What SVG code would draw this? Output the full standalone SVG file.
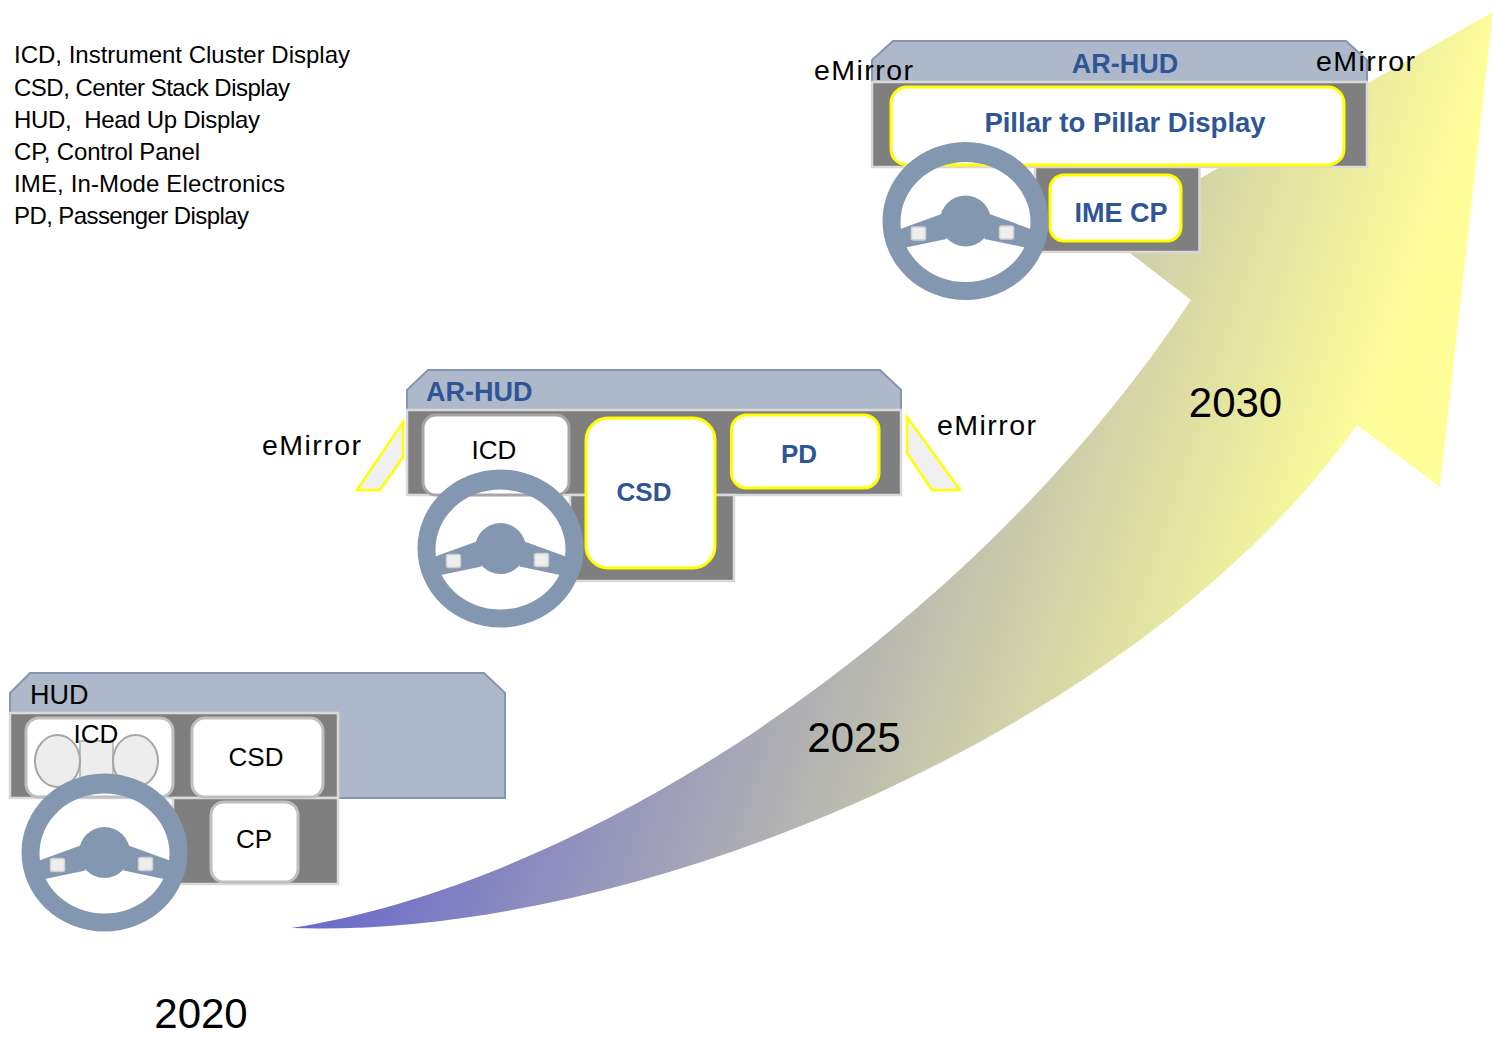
<svg xmlns="http://www.w3.org/2000/svg" width="1493" height="1037" viewBox="0 0 1493 1037">
<style>
  text { font-family: "Liberation Sans", Arial, sans-serif; fill: #000; }
  .legend { font-size: 24px; }
  .lbl { font-size: 26px; text-anchor: middle; }
  .blbl { font-weight: bold; fill: #2f5597; text-anchor: middle; }
  .year { font-size: 42px; text-anchor: middle; }
  .mtxt { font-size: 28.5px; }
  .hud { fill: #adb9ca; stroke: #8497b0; stroke-width: 2; }
  .dash { fill: #7f7f7f; stroke: #d9d9d9; stroke-width: 2.5; }
  .scr { fill: #fff; stroke: #bfbfbf; stroke-width: 3; }
  .scr-hi { fill: #fff; stroke: #ffff00; stroke-width: 3; }
  .mirror { fill: #f0f0f0; stroke: #ffff00; stroke-width: 2.5; }
  .gauge { fill: #ededed; stroke: #a6a6a6; stroke-width: 2; }
  .wheel { fill: #8497b0; }
  .knob { fill: #eeeeee; stroke: #d0d0d0; stroke-width: 1.5; }
</style>
<defs>
  <linearGradient id="trend" gradientUnits="userSpaceOnUse" x1="290" y1="928" x2="1120" y2="1202">
    <stop offset="0" stop-color="#6666cc"/>
    <stop offset="1" stop-color="#ffff99"/>
  </linearGradient>
  <!-- steering wheel, centred on the origin -->
  <g id="wheel">
    <path class="wheel" fill-rule="evenodd" d="M-83 0 A83 79 0 1 0 83 0 A83 79 0 1 0 -83 0 Z M-65 1 A65 60 0 1 0 65 1 A65 60 0 1 0 -65 1 Z"/>
    <circle class="wheel" r="25.5"/>
    <polygon class="wheel" points="-68,9 -24,-7 -19,18 -62,27"/>
    <polygon class="wheel" points="24,-7 68,9 62,27 19,18"/>
    <rect class="knob" x="-54" y="6" width="14" height="13" rx="2"/>
    <rect class="knob" x="34" y="5" width="14" height="13" rx="2"/>
  </g>
</defs>

<rect width="1493" height="1037" fill="#fff"/>

<!-- curved timeline arrow -->
<g id="connectors">
  <path id="timeline-arrow" fill="url(#trend)" d="M291 928 C650 940 1150 720 1357 425 L1440 487 L1493 12 L1104 233 L1191 300 C980 620 600 880 291 928 Z"/>
</g>

<!-- abbreviations -->
<g id="legend" class="legend">
  <text x="14" y="63" textLength="336">ICD, Instrument Cluster Display</text>
  <text x="14" y="96" textLength="276">CSD, Center Stack Display</text>
  <text x="14" y="128" textLength="246" style="white-space:pre">HUD,  Head Up Display</text>
  <text x="14" y="160" textLength="186">CP, Control Panel</text>
  <text x="14" y="192" textLength="271">IME, In-Mode Electronics</text>
  <text x="14" y="224" textLength="235">PD, Passenger Display</text>
</g>

<!-- 2020 cockpit -->
<g id="stage-2020">
  <g id="hud-2020">
    <path class="hud" d="M10 693 L30 673 L484 673 L505 693 L505 798 L10 798 Z"/>
    <text x="30" y="704" font-size="27">HUD</text>
  </g>
  <g id="dash-2020">
    <rect class="dash" x="10" y="713" width="328" height="85"/>
    <rect class="dash" x="173" y="798" width="165" height="86"/>
  </g>
  <g id="icd-2020">
    <rect class="scr" x="26" y="718" width="147" height="79" rx="13"/>
    <rect class="gauge" x="80" y="741" width="33" height="45" style="stroke:#bfbfbf"/>
    <ellipse class="gauge" cx="57.5" cy="761" rx="22.5" ry="26"/>
    <ellipse class="gauge" cx="135.5" cy="761" rx="22.5" ry="26"/>
    <text class="lbl" x="96" y="743">ICD</text>
  </g>
  <g id="csd-2020">
    <rect class="scr" x="192" y="718" width="131" height="79" rx="13"/>
    <text class="lbl" x="256" y="766">CSD</text>
  </g>
  <g id="cp-2020">
    <rect class="scr" x="211" y="802" width="87" height="80" rx="13"/>
    <text class="lbl" x="254" y="848">CP</text>
  </g>
  <g id="wheel-2020"><use href="#wheel" transform="translate(104.5 852.5)"/></g>
</g>

<!-- 2025 cockpit -->
<g id="stage-2025">
  <g id="arhud-2025">
    <path class="hud" d="M407 390 L428 370 L880 370 L901 390 L901 410 L407 410 Z"/>
    <text class="blbl" x="426" y="401" font-size="27" style="text-anchor:start">AR-HUD</text>
  </g>
  <g id="dash-2025">
    <rect class="dash" x="407" y="410" width="494" height="85"/>
    <rect class="dash" x="570" y="495" width="164" height="86"/>
  </g>
  <g id="icd-2025">
    <rect class="scr" x="423" y="415" width="146" height="80" rx="13" style="stroke:#a6a6a6"/>
    <text class="lbl" x="494" y="459">ICD</text>
  </g>
  <g id="csd-2025">
    <rect class="scr-hi" x="586" y="418" width="129" height="150" rx="22"/>
    <text class="blbl" x="644" y="501" font-size="26">CSD</text>
  </g>
  <g id="pd-2025">
    <rect class="scr-hi" x="731.5" y="415" width="147.5" height="73" rx="15"/>
    <text class="blbl" x="799" y="463" font-size="26">PD</text>
  </g>
  <g id="emirror-left-2025">
    <polygon class="mirror" points="403,422 403,457 380,490 357,490"/>
    <text class="mtxt" x="262" y="455" textLength="99">eMirror</text>
  </g>
  <g id="emirror-right-2025">
    <polygon class="mirror" points="907,417 907,453 932,490 960,490"/>
    <text class="mtxt" x="937" y="435" textLength="99">eMirror</text>
  </g>
  <g id="wheel-2025"><use href="#wheel" transform="translate(500.5 548.5)"/></g>
</g>

<!-- 2030 cockpit -->
<g id="stage-2030">
  <g id="arhud-2030">
    <path class="hud" d="M872 60 L893 41 L1346 41 L1367 60 L1367 82 L872 82 Z"/>
    <text class="blbl" x="1125" y="73" font-size="27">AR-HUD</text>
  </g>
  <g id="dash-2030">
    <rect class="dash" x="872" y="82" width="495" height="85"/>
    <rect class="dash" x="1035" y="167" width="164.5" height="85"/>
  </g>
  <g id="p2p-2030">
    <rect class="scr-hi" x="891" y="87" width="453" height="78" rx="16"/>
    <text class="blbl" x="1125" y="132" font-size="27.5">Pillar to Pillar Display</text>
  </g>
  <g id="imecp-2030">
    <rect class="scr-hi" x="1050" y="175" width="131" height="66" rx="14"/>
    <text class="blbl" x="1121" y="222" font-size="27">IME CP</text>
  </g>
  <g id="wheel-2030"><use href="#wheel" transform="translate(965.5 221)"/></g>
  <g id="emirror-left-2030">
    <text class="mtxt" x="814" y="80" textLength="99">eMirror</text>
  </g>
  <g id="emirror-right-2030">
    <text class="mtxt" x="1316" y="71" textLength="99">eMirror</text>
  </g>
</g>

<!-- years -->
<g id="years">
  <text class="year" x="201" y="1028">2020</text>
  <text class="year" x="854" y="752">2025</text>
  <text class="year" x="1235.5" y="417">2030</text>
</g>
</svg>
